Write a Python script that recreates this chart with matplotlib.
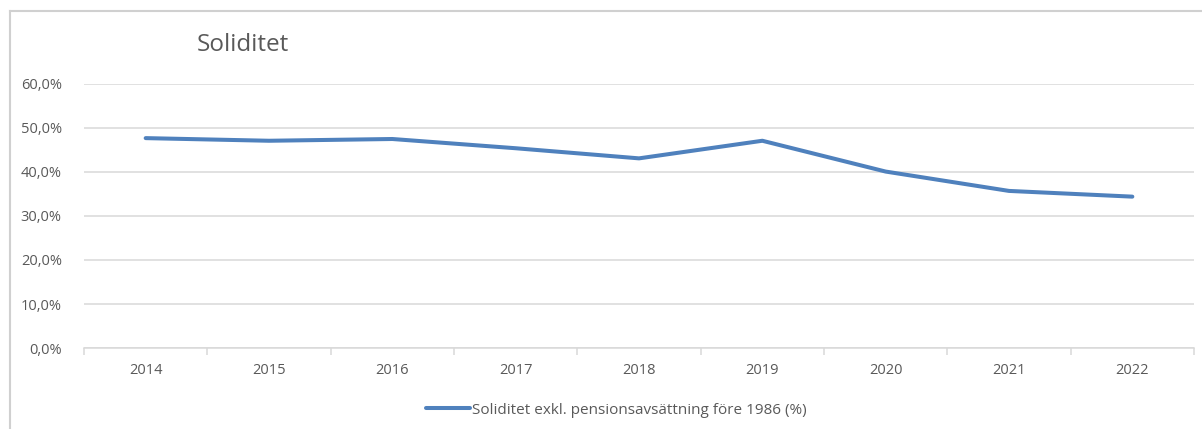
import matplotlib
matplotlib.use("Agg")
import matplotlib.pyplot as plt
from matplotlib.lines import Line2D
from matplotlib.ticker import FuncFormatter

years = ["2014", "2015", "2016", "2017", "2018", "2019", "2020", "2021", "2022"]
soliditet = [47.7, 47.1, 47.5, 45.4, 43.1, 47.1, 40.1, 35.7, 34.4]
series_label = "Soliditet exkl. pensionsavsättning före 1986 (%)"
title = "Soliditet"

plt.rcParams['font.family'] = ['Open Sans', 'DejaVu Sans']

W, H = 1202, 429
fig = plt.figure(figsize=(W / 100, H / 100), dpi=100)
ax = fig.add_axes([84 / W, 1 - 348 / H, (1194 - 84) / W, (348 - 84) / H])

grid_c = "#d9d9d9"
text_c = "#595959"

x = list(range(len(years)))
line, = ax.plot(x, soliditet, color="#4f81bd", lw=2.9, solid_capstyle="round",
                solid_joinstyle="round", label=series_label, clip_on=False)

ax.set_ylim(0, 60)
ax.set_xlim(-0.5, len(years) - 0.5)
ax.set_yticks(range(0, 61, 10))
ax.yaxis.set_major_formatter(FuncFormatter(lambda v, p: f"{v:.1f}%".replace(".", ",")))
ax.tick_params(axis="y", length=0, pad=16, labelsize=10.5, labelcolor=text_c)
ax.grid(axis="y", color=grid_c, lw=1.1)
ax.set_axisbelow(True)

# category ticks between years, labels at centers
ax.set_xticks([i - 0.5 for i in range(len(years) + 1)])
ax.set_xticklabels([])
ax.set_xticks(x, minor=True)
ax.set_xticklabels(years, minor=True)
ax.tick_params(axis="x", which="major", length=5, color=grid_c, width=1.1)
ax.tick_params(axis="x", which="minor", length=0, pad=11, labelsize=10.5, labelcolor=text_c)

for s in ["top", "right", "left"]:
    ax.spines[s].set_visible(False)
ax.spines["bottom"].set_color(grid_c)
ax.spines["bottom"].set_linewidth(1.1)

fig.text(197 / W, 1 - 45 / H, title, fontsize=17.5, color=text_c, va="center", ha="left")

fig.legend(handles=[line], loc="center", bbox_to_anchor=(616 / W, 1 - 410 / H),
           frameon=False, fontsize=11, labelcolor=text_c, handlelength=2.9,
           handletextpad=0.1)

# spreadsheet frame
fig.add_artist(Line2D([10 / W, 10 / W], [0, 1 - 11 / H], color="#d0d0d0", lw=1.5))
fig.add_artist(Line2D([10 / W, 1], [1 - 11 / H, 1 - 11 / H], color="#d0d0d0", lw=1.5))

fig.savefig("out.png", dpi=100)
